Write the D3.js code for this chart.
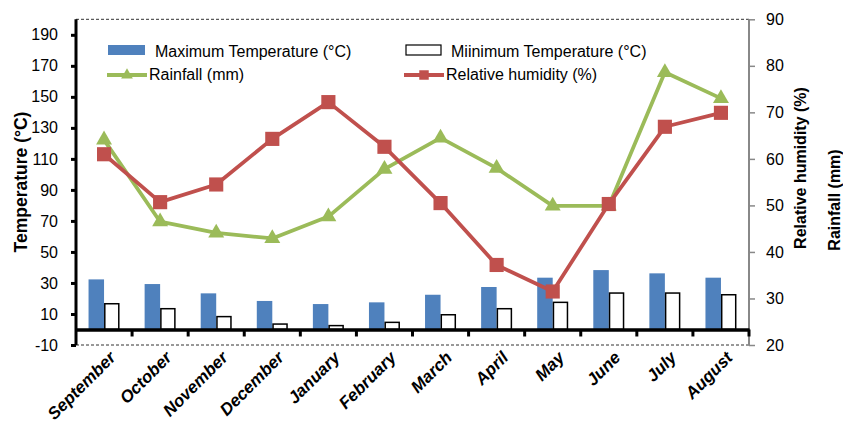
<!DOCTYPE html>
<html>
<head>
<meta charset="utf-8">
<script src="https://cdn.jsdelivr.net/npm/d3@7"></script>
<style>
  html, body { margin: 0; padding: 0; background: #fff; }
  svg text { font-family: "Liberation Sans", Arial, sans-serif; fill: #000; }
</style>
</head>
<body>
<svg id="chart" width="843" height="424"></svg>
<script>
// Monthly climate record: temperature bars (left axis), rainfall and humidity lines (right axis)
const months = ["September", "October", "November", "December", "January", "February",
                "March", "April", "May", "June", "July", "August"];
const maxTemp = [32.3, 29.3, 23.3, 18.4, 16.4, 17.5, 22.4, 27.4, 33.4, 38.3, 36.2, 33.4];
const minTemp = [16.6, 13.4, 8.3, 3.5, 2.5, 4.6, 9.5, 13.4, 17.5, 23.5, 23.5, 22.4];
const rainfall = [64.1, 46.5, 44.1, 42.9, 47.6, 57.8, 64.5, 58.0, 49.9, 49.9, 78.6, 73.0];
const humidity = [61.0, 50.7, 54.5, 64.3, 72.2, 62.6, 50.5, 37.2, 31.5, 50.3, 66.9, 69.9];
const leftTicks = [-10, 10, 30, 50, 70, 90, 110, 130, 150, 170, 190];
const rightTicks = [20, 30, 40, 50, 60, 70, 80, 90];

const svg = d3.select("#chart");
const plot = { left: 76, right: 749, top: 19.3, bottom: 345 };

const x = d3.scaleBand().domain(months).range([plot.left, plot.right]).paddingInner(0).paddingOuter(0);
const yLeft = d3.scaleLinear().domain([-10, 200]).range([plot.bottom, plot.top]);
const yRight = d3.scaleLinear().domain([20, 90]).range([plot.bottom, plot.top]);

const blue = "#4F81BD", green = "#9BBB59", red = "#C0504D";
const barW = 15.5;

// dashed plot-area border (top and bottom)
[plot.top, plot.bottom].forEach(yy => {
  svg.append("line")
    .attr("x1", plot.left).attr("x2", plot.right)
    .attr("y1", yy).attr("y2", yy)
    .attr("stroke", "#333").attr("stroke-width", 1)
    .attr("stroke-dasharray", "3,2");
});

// temperature bars
const cx = m => x(m) + x.bandwidth() / 2;
svg.append("g").selectAll("rect").data(months).join("rect")
  .attr("x", m => cx(m) - barW)
  .attr("y", (m, i) => yLeft(maxTemp[i]))
  .attr("width", barW)
  .attr("height", (m, i) => yLeft(0) - yLeft(maxTemp[i]))
  .attr("fill", blue);
svg.append("g").selectAll("rect").data(months).join("rect")
  .attr("x", m => cx(m) + 0.75)
  .attr("y", (m, i) => yLeft(minTemp[i]))
  .attr("width", barW - 1.5)
  .attr("height", (m, i) => yLeft(0) - yLeft(minTemp[i]))
  .attr("fill", "#fff").attr("stroke", "#000").attr("stroke-width", 1.5);

// left axis
const gL = svg.append("g").attr("transform", `translate(${plot.left},0)`)
  .call(d3.axisLeft(yLeft).tickValues(leftTicks).tickSize(5).tickPadding(13).tickFormat(d => String(d)));
gL.select(".domain").attr("d", `M0,${plot.top}V${plot.bottom}`).attr("stroke", "#000").attr("stroke-width", 3);
gL.selectAll(".tick line").attr("stroke", "#000").attr("stroke-width", 3);
gL.selectAll(".tick text").style("font-size", "16px").attr("fill", "#000");

// right axis
const gR = svg.append("g").attr("transform", `translate(${plot.right},0)`)
  .call(d3.axisRight(yRight).tickValues(rightTicks).tickSize(6).tickPadding(11));
gR.select(".domain").attr("d", `M0,${plot.top}V${plot.bottom}`).attr("stroke", "#888").attr("stroke-width", 2);
gR.selectAll(".tick line").attr("stroke", "#888").attr("stroke-width", 1.5);
gR.selectAll(".tick text").style("font-size", "16px").attr("fill", "#111");

// category axis at zero temperature
const gX = svg.append("g").attr("transform", `translate(0,${yLeft(0)})`)
  .call(d3.axisBottom(x).tickSize(0).tickFormat(""));
gX.select(".domain").attr("stroke", "#000").attr("stroke-width", 3.5);
gX.selectAll(".sep").data(d3.range(1, months.length + 1)).join("line")
  .attr("class", "sep")
  .attr("x1", i => plot.left + i * x.bandwidth())
  .attr("x2", i => plot.left + i * x.bandwidth())
  .attr("y1", 0).attr("y2", 7)
  .attr("stroke", "#000").attr("stroke-width", 3);

// month labels, rotated
svg.append("g").selectAll("text").data(months).join("text")
  .attr("transform", m => `translate(${cx(m) + 4},${350}) rotate(-45)`)
  .attr("text-anchor", "end")
  .attr("dy", "0.72em")
  .style("font-size", "17px").style("font-weight", "bold").style("font-style", "italic")
  .text(m => m);

// line series
const lineGen = vals => d3.line().x((d, i) => cx(months[i])).y(d => yRight(d))(vals);
const triangle = d3.symbol().type(d3.symbolTriangle).size(110);
const square = d3.symbol().type(d3.symbolSquare).size(200);

svg.append("path").attr("d", lineGen(rainfall))
  .attr("fill", "none").attr("stroke", green).attr("stroke-width", 3.8).attr("stroke-linejoin", "round");
svg.append("g").selectAll("path").data(rainfall).join("path")
  .attr("d", triangle)
  .attr("transform", (d, i) => `translate(${cx(months[i])},${yRight(d)})`)
  .attr("fill", green);

svg.append("path").attr("d", lineGen(humidity))
  .attr("fill", "none").attr("stroke", red).attr("stroke-width", 3.8).attr("stroke-linejoin", "round");
svg.append("g").selectAll("path").data(humidity).join("path")
  .attr("d", square)
  .attr("transform", (d, i) => `translate(${cx(months[i])},${yRight(d)})`)
  .attr("fill", red);

// axis titles
svg.append("text")
  .attr("transform", "translate(21,182) rotate(-90)")
  .attr("text-anchor", "middle").attr("dominant-baseline", "central")
  .style("font-size", "17.5px").style("font-weight", "bold")
  .text("Temperature (°C)");
svg.append("text")
  .attr("transform", "translate(800,168) rotate(-90)")
  .attr("text-anchor", "middle").attr("dominant-baseline", "central")
  .style("font-size", "16px").style("font-weight", "bold")
  .text("Relative humidity (%)");
svg.append("text")
  .attr("transform", "translate(834,200) rotate(-90)")
  .attr("text-anchor", "middle").attr("dominant-baseline", "central")
  .style("font-size", "16px").style("font-weight", "bold")
  .text("Rainfall (mm)");

// legend
const legend = svg.append("g");
legend.append("rect").attr("x", 108).attr("y", 45).attr("width", 37).attr("height", 10).attr("fill", blue);
legend.append("text").attr("x", 155).attr("y", 56.5).style("font-size", "16px").text("Maximum Temperature (°C)");
legend.append("rect").attr("x", 406).attr("y", 45).attr("width", 35).attr("height", 10)
  .attr("fill", "#fff").attr("stroke", "#000").attr("stroke-width", 1.2);
legend.append("text").attr("x", 451).attr("y", 56.5).style("font-size", "16px").text("Miinimum Temperature (°C)");

legend.append("line").attr("x1", 107).attr("x2", 147).attr("y1", 75).attr("y2", 75)
  .attr("stroke", green).attr("stroke-width", 3.8);
legend.append("path").attr("d", d3.symbol().type(d3.symbolTriangle).size(60))
  .attr("transform", "translate(127,75)").attr("fill", green);
legend.append("text").attr("x", 149).attr("y", 80).style("font-size", "16px").text("Rainfall (mm)");

legend.append("line").attr("x1", 404).attr("x2", 444).attr("y1", 75).attr("y2", 75)
  .attr("stroke", red).attr("stroke-width", 3.8);
legend.append("path").attr("d", d3.symbol().type(d3.symbolSquare).size(90))
  .attr("transform", "translate(424,75)").attr("fill", red);
legend.append("text").attr("x", 446).attr("y", 80).style("font-size", "16px").text("Relative humidity (%)");
</script>
</body>
</html>
